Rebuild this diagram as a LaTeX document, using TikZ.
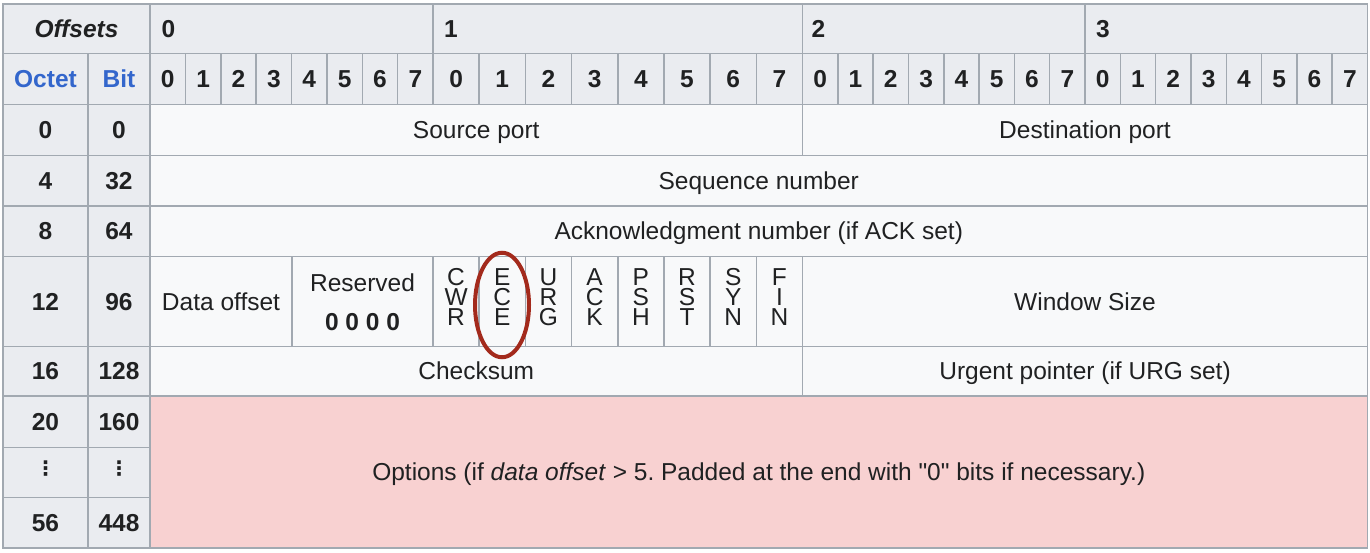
\documentclass[tikz,border=0pt]{standalone}
\usepackage{fontspec}
\setmainfont{Liberation Sans}[Ligatures=TeXOff]
\newfontfamily\symfont{DejaVu Sans}
\usetikzlibrary{shapes.geometric}
\frenchspacing

\definecolor{hdrbg}{HTML}{EAECF0}
\definecolor{cellbg}{HTML}{F8F9FA}
\definecolor{optbg}{HTML}{F8D1D1}
\definecolor{rulegray}{HTML}{A2A9B1}
\definecolor{ink}{HTML}{202122}
\definecolor{linkblue}{HTML}{3366CC}
\definecolor{ringred}{HTML}{A32A1C}

\newcommand{\txtsize}{\fontsize{24.5}{29}\selectfont}

\begin{document}
\begin{tikzpicture}[x=1pt,y=-1pt,
  every node/.style={inner sep=0pt, text=ink, font=\txtsize},
  txt/.style={anchor=base},
  bld/.style={anchor=base, font=\txtsize\bfseries},
  bytehd/.style={anchor=base west, font=\txtsize\bfseries},
  colhd/.style={anchor=base, font=\txtsize\bfseries, text=linkblue},
  dots/.style={anchor=center, font=\symfont\fontsize{20}{24}\selectfont\bfseries},
  gridline/.style={draw=rulegray, line width=1.5pt},
  ring/.style={draw=ringred, line width=4pt, ellipse, minimum width=54pt, minimum height=104.5pt}
]
\useasboundingbox (0,0) rectangle (1370,552);
\fill[white] (0,0) rectangle (1370,552);

% cell backgrounds
\fill[hdrbg] (3,4) rectangle (1367.5,104.5);
\fill[hdrbg] (3,104.5) rectangle (150,548);
\fill[cellbg] (150,104.5) rectangle (1367.5,396);
\fill[optbg] (150,396) rectangle (1367.5,548);

% horizontal rules
\foreach \y in {53.5,104.5,155.5,206,256.5,346.5,396}
  \draw[gridline] (3,\y) -- (1367.5,\y);
\foreach \y in {447.5,497.5}
  \draw[gridline] (3,\y) -- (150,\y);

% vertical rules of the header
\draw[gridline] (88,53.5) -- (88,548);
\draw[gridline] (150,4) -- (150,548);
\foreach \x in {433,802.5,1085}
  \draw[gridline] (\x,4) -- (\x,104.5);
\foreach \i in {1,...,7} {
  \draw[gridline] (150+35.375*\i,53.5) -- (150+35.375*\i,104.5);
  \draw[gridline] (433+46.1875*\i,53.5) -- (433+46.1875*\i,104.5);
  \draw[gridline] (802.5+35.3125*\i,53.5) -- (802.5+35.3125*\i,104.5);
  \draw[gridline] (1085+35.3125*\i,53.5) -- (1085+35.3125*\i,104.5);
}

% vertical rules of the field rows
\draw[gridline] (802.5,104.5) -- (802.5,155.5);
\draw[gridline] (802.5,346.5) -- (802.5,396);
\foreach \x in {292,433,802.5}
  \draw[gridline] (\x,256.5) -- (\x,346.5);
\foreach \i in {1,...,7}
  \draw[gridline] (433+46.1875*\i,256.5) -- (433+46.1875*\i,346.5);

% outer frame
\draw[gridline] (3,4) rectangle (1367.5,548);

% header: byte offsets
\node[anchor=base, font=\txtsize\bfseries\itshape] (offsets) at (76.5,37.3) {Offsets};
\node[bytehd] (byte0) at (161.5,37.3) {0};
\node[bytehd] (byte1) at (444,37.3) {1};
\node[bytehd] (byte2) at (811.5,37.3) {2};
\node[bytehd] (byte3) at (1096,37.3) {3};

% header: bit numbers
\node[colhd] (octet) at (45.5,87.5) {Octet};
\node[colhd] (bit) at (119,87.5) {Bit};
\foreach \i in {0,...,7} {
  \node[bld] (b0-\i) at (150+35.375*\i+17.69,87.5) {\i};
  \node[bld] (b1-\i) at (433+46.1875*\i+23.09,87.5) {\i};
  \node[bld] (b2-\i) at (802.5+35.3125*\i+17.66,87.5) {\i};
  \node[bld] (b3-\i) at (1085+35.3125*\i+17.66,87.5) {\i};
}

% row offsets
\node[bld] (o0) at (45.5,138.5) {0};   \node[bld] (w0) at (119,138.5) {0};
\node[bld] (o4) at (45.5,189.2) {4};   \node[bld] (w32) at (119,189.2) {32};
\node[bld] (o8) at (45.5,239.8) {8};   \node[bld] (w64) at (119,239.8) {64};
\node[bld] (o12) at (45.5,310) {12};   \node[bld] (w96) at (119,310) {96};
\node[bld] (o16) at (45.5,379.8) {16}; \node[bld] (w128) at (119,379.8) {128};
\node[bld] (o20) at (45.5,430.2) {20}; \node[bld] (w160) at (119,430.2) {160};
\node[dots] (odots) at (45.5,469) {⋮};
\node[dots] (wdots) at (119,469) {⋮};
\node[bld] (o56) at (45.5,531.2) {56}; \node[bld] (w448) at (119,531.2) {448};

% header fields
\node[txt] (srcport) at (476.25,138.5) {Source port};
\node[txt] (dstport) at (1085,138.5) {Destination port};
\node[txt] (seqnum) at (758.75,189.2) {Sequence number};
\node[txt] (acknum) at (758.75,239.8) {Acknowledgment number (if ACK set)};
\node[txt] (dataoff) at (221,310) {Data offset};
\node[txt] (reserved) at (362.5,291.7) {Reserved};
\node[bld] (resbits) at (362.5,330) {0 0 0 0};
% control flags, one letter above the other
\foreach \la/\lb/\lc [count=\i from 0] in {C/W/R, E/C/E, U/R/G, A/C/K, P/S/H, R/S/T, S/Y/N, F/I/N} {
  \node[txt] (flag\i-a) at (433+46.1875*\i+23.09,285.6) {\la};
  \node[txt] (flag\i-b) at (433+46.1875*\i+23.09,305.3) {\lb};
  \node[txt] (flag\i-c) at (433+46.1875*\i+23.09,325) {\lc};
}
\node[txt] (window) at (1085,310) {Window Size};
\node[txt] (checksum) at (476.25,379.8) {Checksum};
\node[txt] (urgent) at (1085,379.8) {Urgent pointer (if URG set)};
\node[txt] (options) at (758.75,480.5) {Options (if \textit{data offset} > 5. Padded at the end with "0" bits if necessary.)};

% ring round the ECE flag
\node[ring] (ecering) at (502,305) {};
\end{tikzpicture}
\end{document}
